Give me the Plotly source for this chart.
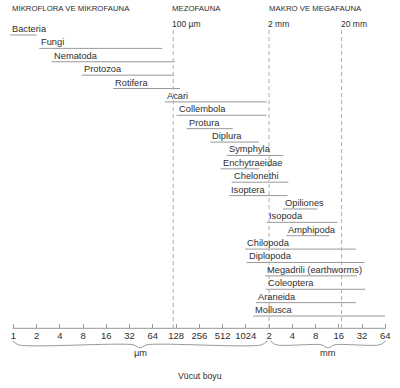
import plotly.graph_objects as go

# ---- data (sizes in log2(µm) units: 0 -> 1 µm, 11 -> 2 mm, 16 -> 64 mm) ----
taxa = ["Bacteria", "Fungi", "Nematoda", "Protozoa", "Rotifera", "Acari",
        "Collembola", "Protura", "Diplura", "Symphyla", "Enchytraeidae",
        "Chelonethi", "Isoptera", "Opiliones", "Isopoda", "Amphipoda",
        "Chilopoda", "Diplopoda", "Megadrili (earthworms)", "Coleoptera",
        "Araneida", "Mollusca"]
size_min = [-0.14, 1.12, 1.65, 2.94, 4.30, 6.52, 7.02, 7.46, 8.48, 9.18, 8.92,
            9.39, 9.29, 11.60, 10.90, 11.74, 9.97, 10.04, 10.83, 10.86, 10.44, 10.32]
size_max = [1.00, 6.41, 6.95, 6.91, 7.17, 10.90, 10.90, 9.44, 10.57, 11.61, 10.58,
            11.83, 11.79, 13.08, 13.94, 13.59, 14.73, 15.11, 14.77, 15.13, 14.73, 15.99]

tick_pos = list(range(17))
tick_text = ["1", "2", "4", "8", "16", "32", "64", "128", "256", "512", "1024",
             "2", "4", "8", "16", "32", "64"]

ref_pos = [6.88, 11.0, 14.12]
ref_labels = ["100 µm", "2 mm", "20 mm"]

group_titles = ["MİKROFLORA VE MİKROFAUNA", "MEZOFAUNA", "MAKRO VE MEGAFAUNA"]
group_start = [-0.14, 6.74, 10.90]

unit_labels = ["µm", "mm"]
unit_span = [(-0.03, 10.93), (11.05, 16.02)]

axis_title = "Vücut boyu"

# ---- styling ----
FONT = "Liberation Sans, Arial, Helvetica, sans-serif"
TXT = "#2e2e2e"
BAR = "#999999"
DASH = "#b0b0b0"
AXIS_ROW = 21.92

fig = go.Figure()

# range bars
xs, ys = [], []
for i, (a, b) in enumerate(zip(size_min, size_max)):
    xs += [a, b, None]
    ys += [i, i, None]
fig.add_trace(go.Scatter(x=xs, y=ys, mode="lines",
                         line=dict(color=BAR, width=1), hoverinfo="skip"))

# dashed reference lines
for p in ref_pos:
    fig.add_trace(go.Scatter(x=[p, p], y=[-0.37, AXIS_ROW], mode="lines",
                             line=dict(color=DASH, width=1, dash="4px,3px"),
                             hoverinfo="skip"))

# axis line
fig.add_trace(go.Scatter(x=[tick_pos[0] - 0.03, tick_pos[-1] + 0.02],
                         y=[AXIS_ROW, AXIS_ROW], mode="lines",
                         line=dict(color=BAR, width=1), hoverinfo="skip"))

# braces
for (a, b) in unit_span:
    c = (a + b) / 2
    bx = [a, a + 0.25, c - 0.3, c, c + 0.3, b - 0.25, b]
    by = [22.85, 23.15, 23.15, 23.38, 23.15, 23.15, 22.85]
    fig.add_trace(go.Scatter(x=bx, y=by, mode="lines",
                             line=dict(color=BAR, width=1, shape="spline", smoothing=0.8),
                             hoverinfo="skip"))

ann = []
for i, (name, a) in enumerate(zip(taxa, size_min)):
    ann.append(dict(x=a, y=i - 0.45, text=name, xanchor="left", yanchor="middle",
                    showarrow=False, font=dict(family=FONT, size=9.3, color=TXT)))
for p, lab in zip(ref_pos, ref_labels):
    ann.append(dict(x=p - 0.13, y=-0.80, text=lab, xanchor="left", yanchor="middle",
                    showarrow=False, font=dict(family=FONT, size=8.5, color=TXT)))
for t, s in zip(group_titles, group_start):
    ann.append(dict(x=s, y=-2.0, text=t, xanchor="left", yanchor="middle",
                    showarrow=False, font=dict(family=FONT, size=7.8, color=TXT)))
for lab, (a, b) in zip(unit_labels, unit_span):
    ann.append(dict(x=(a + b) / 2, y=23.79, text=lab, xanchor="center", yanchor="middle",
                    showarrow=False, font=dict(family=FONT, size=9.3, color=TXT)))
ann.append(dict(x=8.03, y=25.49, text=axis_title, xanchor="center", yanchor="middle",
                showarrow=False, font=dict(family=FONT, size=8.7, color=TXT)))

fig.update_layout(
    width=400, height=388, autosize=False,
    margin=dict(l=0, r=0, t=0, b=0, pad=0),
    paper_bgcolor="white", plot_bgcolor="white",
    showlegend=False, hovermode=False,
    annotations=ann,
    xaxis=dict(range=[-0.572, 16.632], domain=[0, 1], anchor="free",
               position=1 - (35 + AXIS_ROW * 13.38) / 388, automargin=False,
               tickvals=tick_pos, ticktext=tick_text, ticks="inside",
               ticklen=4, tickcolor=BAR, tickwidth=1,
               showgrid=False, zeroline=False, showline=False,
               tickfont=dict(family=FONT, size=9.5, color=TXT)),
    yaxis=dict(range=[26.38, -2.616], domain=[0, 1], visible=False,
               showgrid=False, zeroline=False, automargin=False),
)

fig.write_html("out.html", config={"displayModeBar": False},
               post_script="document.body.style.margin='0px';")
